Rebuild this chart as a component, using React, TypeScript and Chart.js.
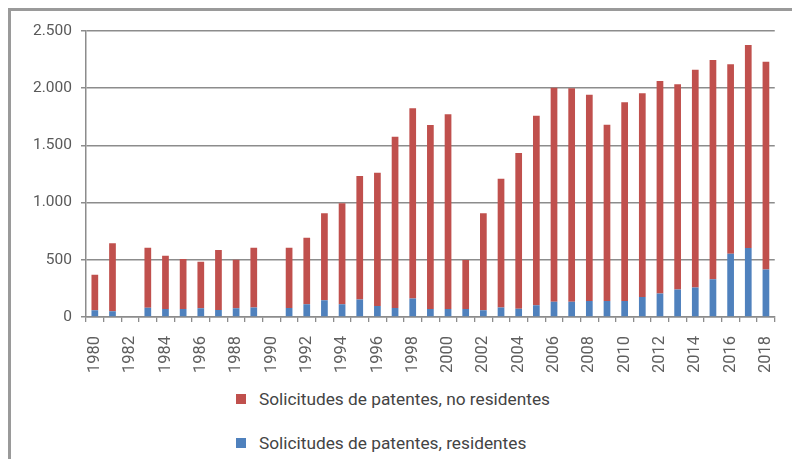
import React, { useEffect, useRef } from "react";
import { Chart, registerables } from "chart.js";

Chart.register(...registerables);

const years: string[] = [
  "1980","1981","1982","1983","1984","1985","1986","1987","1988","1989",
  "1990","1991","1992","1993","1994","1995","1996","1997","1998","1999",
  "2000","2001","2002","2003","2004","2005","2006","2007","2008","2009",
  "2010","2011","2012","2013","2014","2015","2016","2017","2018",
];

const residents: (number | null)[] = [
  60, 50, null, 80, 70, 70, 76, 61, 76, 82,
  null, 79, 111, 146, 111, 152, 96, 78, 161, 70,
  70, 70, 59, 82, 73, 102, 134, 134, 140, 140,
  140, 175, 205, 240, 257, 330, 552, 604, 415,
];

const nonResidents: (number | null)[] = [
  310, 595, null, 526, 466, 437, 408, 525, 425, 524,
  null, 527, 582, 760, 883, 1081, 1165, 1498, 1663, 1608,
  1702, 428, 847, 1127, 1361, 1658, 1870, 1866, 1803, 1541,
  1737, 1780, 1858, 1794, 1905, 1916, 1657, 1774, 1817,
];

const yTicks: number[] = [0, 500, 1000, 1500, 2000, 2500];

const seriesLabels = {
  nonRes: "Solicitudes de patentes, no residentes",
  res: "Solicitudes de patentes, residentes",
};

const RED = "#C0504D";
const BLUE = "#4F81BD";
const GRID = "#8c8c8c";
const FONT = "Roboto";

function fmt(v: number): string {
  return String(v).replace(/\B(?=(\d{3})+(?!\d))/g, ".");
}

export default function App() {
  const ref = useRef<HTMLCanvasElement | null>(null);

  useEffect(() => {
    document.documentElement.style.overflow = "hidden";
    document.body.style.overflow = "hidden";
    const canvas = ref.current;
    if (!canvas) return;
    const chart = new Chart(canvas, {
      type: "bar",
      data: {
        labels: years,
        datasets: [
          {
            label: seriesLabels.res,
            data: residents,
            backgroundColor: BLUE,
            barPercentage: 0.38,
            categoryPercentage: 1,
          },
          {
            label: seriesLabels.nonRes,
            data: nonResidents,
            backgroundColor: RED,
            barPercentage: 0.38,
            categoryPercentage: 1,
          },
        ],
      },
      options: {
        animation: false,
        responsive: false,
        layout: { padding: { top: 20, right: 21, left: 0, bottom: 0 } },
        plugins: {
          legend: { display: false },
          tooltip: { enabled: false },
        },
        scales: {
          x: {
            stacked: true,
            afterFit: (s: any) => {
              s.height = 60;
            },
            grid: {
              offset: true,
              drawOnChartArea: false,
              drawTicks: true,
              tickLength: 5,
              color: GRID,
              lineWidth: 1.3,
            },
            border: { display: true, color: GRID, width: 1.5 },
            ticks: {
              autoSkip: false,
              minRotation: 90,
              maxRotation: 90,
              padding: 14,
              color: "#5f5f5f",
              font: { family: FONT, size: 16.5 },
              callback: (_v: any, i: number) => (i % 2 === 0 ? years[i] : ""),
            },
          },
          y: {
            stacked: true,
            min: 0,
            max: 2500,
            afterFit: (s: any) => {
              s.width = 75;
            },
            afterBuildTicks: (s: any) => {
              s.ticks = yTicks.map((v) => ({ value: v }));
            },
            grid: {
              color: GRID,
              lineWidth: 1.5,
              tickLength: 5,
            },
            border: { display: true, color: GRID, width: 1.5 },
            ticks: {
              padding: 9,
              color: "#595959",
              font: { family: FONT, size: 15.5 },
              callback: (v: any) => fmt(Number(v)),
            },
          },
        },
      },
    } as any);
    return () => chart.destroy();
  }, []);

  const legendItems = [
    { label: seriesLabels.nonRes, color: RED, top: 378 },
    { label: seriesLabels.res, color: BLUE, top: 422 },
  ];

  return (
    <div
      style={{
        position: "relative",
        width: 792,
        height: 451,
        boxSizing: "border-box",
        borderLeft: "3px solid #9a9a9a",
        borderTop: "3px solid #9a9a9a",
        fontFamily: FONT,
        background: "#fff",
      }}
    >
      <canvas
        ref={ref}
        width={789}
        height={366}
        style={{ position: "absolute", left: 0, top: 0, width: 789, height: 366 }}
      />
      {legendItems.map((it) => (
        <div
          key={it.label}
          style={{
            position: "absolute",
            left: 225,
            top: it.top,
            height: 20,
            display: "flex",
            alignItems: "center",
            whiteSpace: "nowrap",
          }}
        >
          <span
            style={{
              display: "inline-block",
              width: 10,
              height: 10,
              background: it.color,
              marginRight: 13,
            }}
          />
          <span style={{ fontSize: 17.3, color: "#444", lineHeight: "20px" }}>{it.label}</span>
        </div>
      ))}
    </div>
  );
}
